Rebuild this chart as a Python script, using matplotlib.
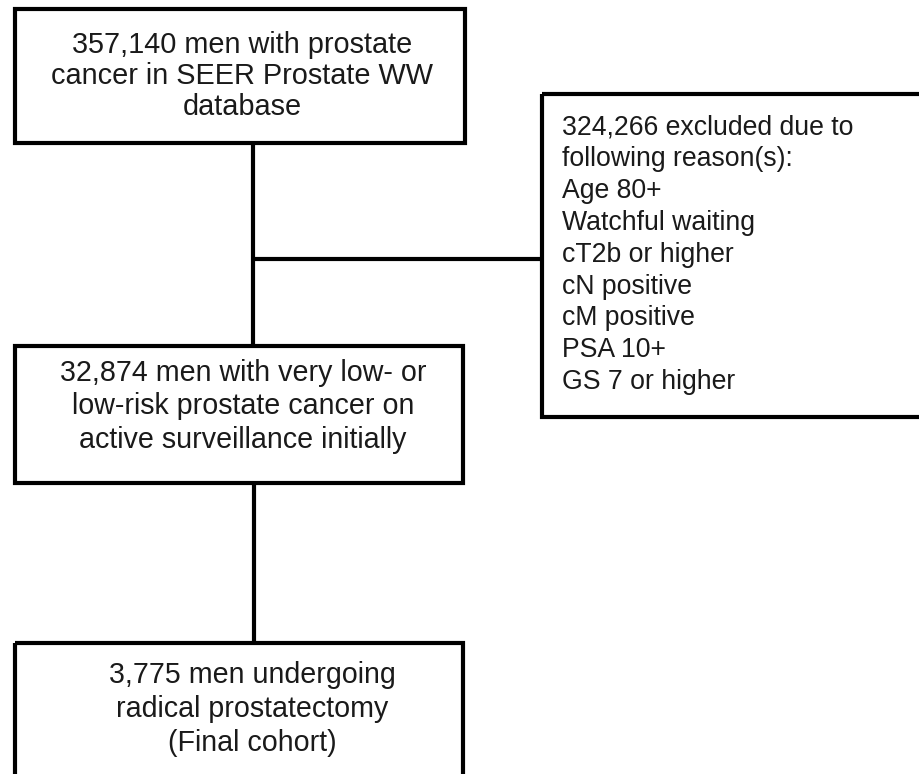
import matplotlib
matplotlib.use("Agg")
import matplotlib.pyplot as plt
from matplotlib.patches import Rectangle

plt.rcParams["font.family"] = ["Liberation Sans", "DejaVu Sans"]

# textos de las cajas
caja1 = ["357,140 men with prostate", "cancer in SEER Prostate WW", "database"]
caja2 = ["324,266 excluded due to", "following reason(s):", "Age 80+", "Watchful waiting",
         "cT2b or higher", "cN positive", "cM positive", "PSA 10+", "GS 7 or higher"]
caja3 = ["32,874 men with very low- or", "low-risk prostate cancer on", "active surveillance initially"]
caja4 = ["3,775 men undergoing", "radical prostatectomy", "(Final cohort)"]

fig = plt.figure(figsize=(9.19, 7.74), dpi=100)
ax = fig.add_axes([0, 0, 1, 1])
ax.set_xlim(0, 919)
ax.set_ylim(774, 0)
ax.axis("off")

lw = 3

def caja(x0, y0, x1, y1):
    ax.add_patch(Rectangle((x0, y0), x1 - x0, y1 - y0, fill=False, edgecolor="black",
                           lw=lw, clip_on=False, joinstyle="miter"))

# cajas
caja(15, 9, 465, 143)
caja(542, 94, 925, 417)
caja(15, 346, 463, 483)
caja(15, 643, 463, 790)

# lineas de conexion
ax.plot([253, 253], [143, 346], color="black", lw=lw, solid_capstyle="butt")
ax.plot([253, 542], [259, 259], color="black", lw=lw, solid_capstyle="butt")
ax.plot([254, 254], [483, 643], color="black", lw=lw, solid_capstyle="butt")

# texto centrado
for i, t in enumerate(caja1):
    ax.text(242, 45 + i * 31, t, ha="center", va="center", fontsize=20.8, color="#1a1a1a")
for i, t in enumerate(caja3):
    ax.text(243, 373 + i * 33.5, t, ha="center", va="center", fontsize=20.6, color="#1a1a1a")
for i, t in enumerate(caja4):
    ax.text(252, 675 + i * 34, t, ha="center", va="center", fontsize=20.6, color="#1a1a1a")

# texto de exclusiones
for i, t in enumerate(caja2):
    ax.text(562, 127 + i * 31.9, t, ha="left", va="center", fontsize=19.2, color="#1a1a1a")

fig.savefig("out.png", dpi=100)
